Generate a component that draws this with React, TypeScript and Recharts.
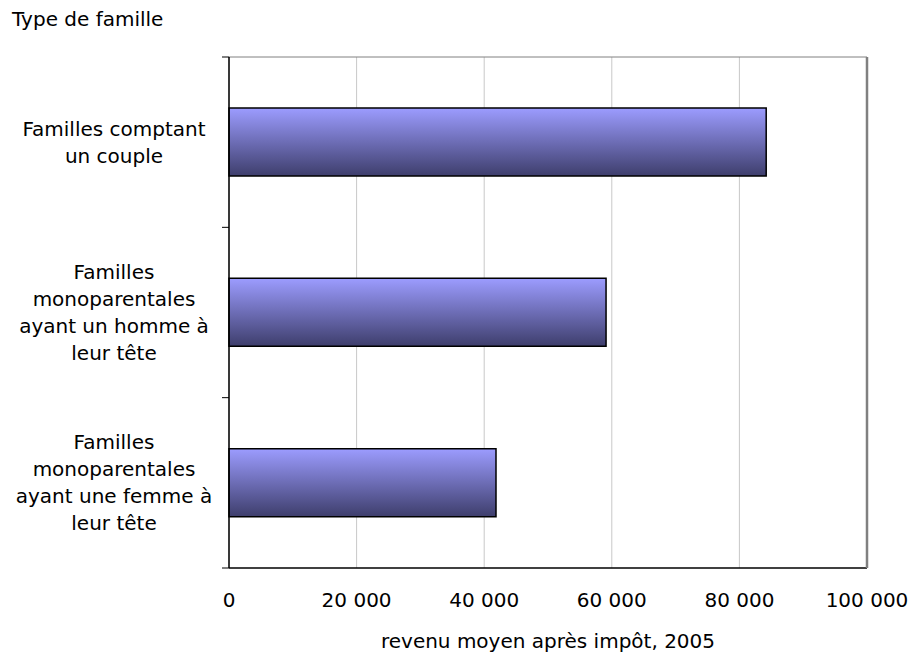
import { BarChart, Bar, XAxis, YAxis, CartesianGrid, Label, ReferenceLine } from 'recharts'

const categories = [
  'Familles comptant un couple',
  'Familles monoparentales ayant un homme à leur tête',
  'Familles monoparentales ayant une femme à leur tête',
]
// lignes des étiquettes (retours à la ligne comme dans Excel)
const categoryLines = [
  ['Familles comptant', 'un couple'],
  ['Familles', 'monoparentales', 'ayant un homme à', 'leur tête'],
  ['Familles', 'monoparentales', 'ayant une femme à', 'leur tête'],
]
const revenus = [84200, 59100, 41850]
const xTicks = [0, 20000, 40000, 60000, 80000, 100000]

const data = categories.map((c, i) => ({ type: c, revenu: revenus[i] }))

const FONT = "'DejaVu Sans', Verdana, sans-serif"

const formatNombre = (v: number) =>
  v >= 1000 ? `${Math.floor(v / 1000)} ${String(v % 1000).padStart(3, '0')}` : String(v)

const CategoryTick = (props: any) => {
  const { y, index } = props
  const lines = categoryLines[index] ?? []
  const lh = 27
  const cx = 114
  return (
    <text x={cx} y={y} textAnchor="middle" fill="#000" fontSize={20} fontFamily={FONT}>
      {lines.map((l, i) => (
        <tspan key={i} x={cx} y={y + (i - (lines.length - 1) / 2) * lh + 7}>
          {l}
        </tspan>
      ))}
    </text>
  )
}

// petites graduations entre les catégories (à gauche de l'axe)
const BoundaryTick = (props: any) => (
  <line x1={props.x1 - 7} x2={props.x1} y1={props.y1} y2={props.y1} stroke="#000" strokeWidth={1} />
)

export default function App() {
  return (
    <div style={{ position: 'absolute', left: 0, top: 0, width: 912, height: 654, background: '#fff', fontFamily: FONT }}>
      <div style={{ position: 'absolute', left: 12, top: 8, fontSize: 20, lineHeight: '23px', color: '#000' }}>
        Type de famille
      </div>
      <BarChart
        width={912}
        height={654}
        data={data}
        layout="vertical"
        margin={{ top: 56, right: 44, bottom: 0, left: 0 }}
        style={{ fontFamily: FONT }}
      >
        <defs>
          <linearGradient id="barGrad" x1="0" y1="0" x2="0" y2="1">
            <stop offset="0%" stopColor="#9C9CFF" />
            <stop offset="100%" stopColor="#3E3E6C" />
          </linearGradient>
        </defs>
        <CartesianGrid
          horizontal={false}
          stroke="#c8c8c8"
          xAxisId="x"
          yAxisId="cat"
        />
        <XAxis
          xAxisId="x"
          type="number"
          dataKey="revenu"
          domain={[0, 100000]}
          ticks={xTicks}
          tickFormatter={formatNombre}
          axisLine={{ stroke: '#000', strokeWidth: 1.5 }}
          tickLine={false}
          tickSize={0}
          tickMargin={25}
          height={86}
          tick={{ fill: '#000', fontSize: 20 }}
          interval={0}
        >
          <Label
            value="revenu moyen après impôt, 2005"
            position="insideBottom"
            offset={6}
            fill="#000"
            fontSize={20}
          />
        </XAxis>
        <XAxis
          xAxisId="top"
          orientation="top"
          type="number"
          domain={[0, 100000]}
          tick={false}
          tickLine={false}
          height={1}
          axisLine={{ stroke: '#808080' }}
        />
        <YAxis
          yAxisId="cat"
          type="category"
          dataKey="type"
          width={229}
          axisLine={{ stroke: '#000', strokeWidth: 1.5 }}
          tickLine={false}
          tick={CategoryTick}
          interval={0}
        />
        <YAxis
          yAxisId="right"
          orientation="right"
          type="number"
          domain={[0, 3]}
          tick={false}
          tickLine={false}
          width={1}
          axisLine={{ stroke: '#808080', strokeWidth: 2.5 }}
        />
        {categories.map((c) => (
          <ReferenceLine
            key={c}
            xAxisId="x"
            yAxisId="cat"
            y={c}
            position="start"
            ifOverflow="visible"
            shape={BoundaryTick}
          />
        ))}
        <ReferenceLine
          xAxisId="x"
          yAxisId="cat"
          y={categories[categories.length - 1]}
          position="end"
          ifOverflow="visible"
          shape={BoundaryTick}
        />
        <Bar
          dataKey="revenu"
          xAxisId="x"
          yAxisId="cat"
          barSize={68}
          fill="url(#barGrad)"
          stroke="#000"
          strokeWidth={1.5}
          isAnimationActive={false}
        />
      </BarChart>
    </div>
  )
}
